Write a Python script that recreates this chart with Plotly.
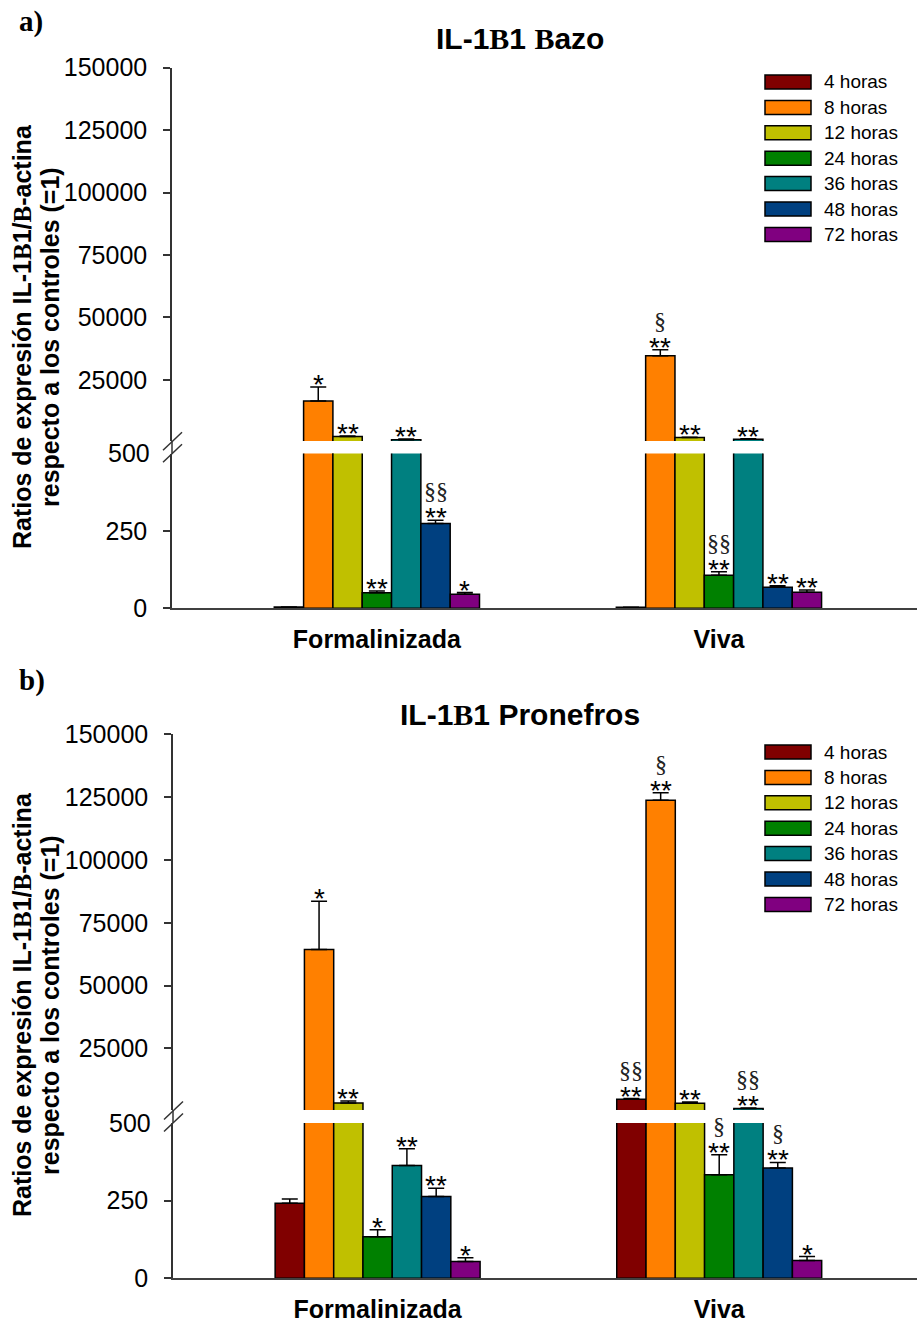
import plotly.graph_objects as go

W, H = 917, 1324

groups = ["Formalinizada", "Viva"]
series = ["4 horas", "8 horas", "12 horas", "24 horas", "36 horas", "48 horas", "72 horas"]
colors = ["#800000", "#FF8000", "#C0C000", "#008000", "#008080", "#004080", "#800080"]

# IL-1B1 Bazo
bazo_form = [4, 16500, 2300, 50, 1050, 274, 45]
bazo_form_err = [0, 5600, 250, 6, 250, 10, 6]
bazo_viva = [3, 34600, 1900, 107, 1250, 68, 52]
bazo_viva_err = [0, 2400, 150, 11, 200, 5, 7]
bazo_form_sig = ["", "*", "**", "**", "**", "**", "*"]
bazo_form_sec = ["", "", "", "", "", "§§", ""]
bazo_viva_sig = ["", "**", "**", "**", "**", "**", "**"]
bazo_viva_sec = ["", "§", "", "§§", "", "", ""]

# IL-1B1 Pronefros
pron_form = [242, 64400, 3300, 134, 363, 263, 54]
pron_form_err = [13, 19200, 800, 22, 54, 27, 12]
pron_viva = [4800, 123800, 3200, 333, 1100, 355, 57]
pron_viva_err = [270, 2900, 500, 65, 200, 18, 13]
pron_form_sig = ["", "*", "**", "*", "**", "**", "*"]
pron_form_sec = ["", "", "", "", "", "", ""]
pron_viva_sig = ["**", "**", "**", "**", "**", "**", "*"]
pron_viva_sec = ["§§", "§", "", "§", "§§", "§", ""]

upper_ticks = [25000, 50000, 75000, 100000, 125000, 150000]
lower_ticks = [0, 250]
BREAK = 500
TOP = 150000

SANS = "Liberation Sans"
SERIF = "Liberation Serif"


def px(x):
    return x / W


def py(y):
    return 1 - y / H


def serif_b(s):
    return s.replace("B", "<span style='font-family:%s'>B</span>" % SERIF)


panels = [
    dict(title="IL-1B1 Bazo", tag="a)", form=bazo_form, form_err=bazo_form_err,
         viva=bazo_viva, viva_err=bazo_viva_err,
         sig=[bazo_form_sig, bazo_viva_sig], sec=[bazo_form_sec, bazo_viva_sec],
         x0=172, low=(608.3, 453.5), up=(441.0, 67.7), title_y=38, tag_y=21,
         ytitle_y=337, leg_y=82),
    dict(title="IL-1B1 Pronefros", tag="b)", form=pron_form, form_err=pron_form_err,
         viva=pron_viva, viva_err=pron_viva_err,
         sig=[pron_form_sig, pron_viva_sig], sec=[pron_form_sec, pron_viva_sec],
         x0=173, low=(1278.3, 1123.0), up=(1110.0, 734.3), title_y=714, tag_y=680,
         ytitle_y=1005, leg_y=752),
]

n = len(series)
bw = 0.6 / n  # bar width in category units (bargap 0.4)
XR = [-0.599, 1.579]

fig = go.Figure()
layout = dict(template="none", width=W, height=H, autosize=False,
              margin=dict(l=0, r=0, t=0, b=0, pad=0),
              paper_bgcolor="white", plot_bgcolor="white", showlegend=False,
              barmode="overlay")
annotations = []
shapes = []

axis_common = dict(showgrid=False, zeroline=False, fixedrange=True, automargin=False)

for p_i, p in enumerate(panels):
    xa = "x" if p_i == 0 else "x2"
    ya_low = "y" if p_i == 0 else "y3"
    ya_up = "y2" if p_i == 0 else "y4"
    xkey = "xaxis" if p_i == 0 else "xaxis2"
    lowkey = "yaxis" if p_i == 0 else "yaxis3"
    upkey = "yaxis2" if p_i == 0 else "yaxis4"

    for i in range(n):
        vals = [p["form"][i], p["viva"][i]]
        errs = [p["form_err"][i], p["viva_err"][i]]
        offset = (i - n / 2) * bw
        # lower segment (0-500): every bar, clipped at the break
        low_err = [e if (v <= BREAK and e > 0) else None for v, e in zip(vals, errs)]
        fig.add_trace(go.Bar(
            x=[0, 1], y=vals, xaxis=xa, yaxis=ya_low, width=bw, offset=offset,
            marker=dict(color=colors[i], line=dict(color="black", width=1.5)),
            error_y=dict(type="data", array=low_err, arrayminus=[0, 0], symmetric=False,
                         color="black", thickness=1.5, width=8),
            name=series[i]))
        # upper segment (500-150000): only bars above the break
        up_vals = [v if v > BREAK else None for v in vals]
        up_err = [e if v > BREAK else None for v, e in zip(vals, errs)]
        fig.add_trace(go.Bar(
            x=[0, 1], y=up_vals, xaxis=xa, yaxis=ya_up, width=bw, offset=offset,
            marker=dict(color=colors[i], line=dict(color="black", width=1.5)),
            error_y=dict(type="data", array=up_err, arrayminus=[0, 0], symmetric=False,
                         color="black", thickness=1.5, width=8),
            name=series[i]))

        # significance marks above each bar
        for g in range(2):
            v, e = vals[g], errs[g]
            top = v + e
            yref = ya_up if v > BREAK else ya_low
            xc = g + (i - (n - 1) / 2) * bw
            star = p["sig"][g][i]
            sec = p["sec"][g][i]
            if star:
                annotations.append(dict(
                    x=xc, y=top, xref=xa, yref=yref, text=star, showarrow=False,
                    xanchor="center", yanchor="bottom", yshift=-15,
                    font=dict(family=SANS, size=28, color="black")))
            if sec:
                annotations.append(dict(
                    x=xc, y=top, xref=xa, yref=yref, text=sec, showarrow=False,
                    xanchor="center", yanchor="bottom", yshift=(14 if star else -2),
                    font=dict(family=SERIF, size=24, color="#222")))

    x0 = p["x0"]
    layout[xkey] = dict(domain=[px(x0), 1.0], range=XR, anchor=ya_low,
                        tickvals=[0, 1], ticktext=groups, ticks="",
                        tickfont=dict(family=SANS, size=25, color="black", weight="bold"),
                        ticklabelstandoff=8,
                        showline=True, linecolor="#404040", linewidth=2, **axis_common)
    ytick = dict(ticks="outside", ticklen=7, tickwidth=1.5, tickcolor="#333",
                 tickfont=dict(family=SANS, size=25, color="black"),
                 ticklabelstandoff=11, tickformat="d",
                 showline=True, linecolor="#333", linewidth=1.5, **axis_common)
    layout[lowkey] = dict(domain=[py(p["low"][0]), py(p["low"][1])], range=[0, BREAK],
                          anchor=xa, tickvals=lower_ticks, **ytick)
    layout[upkey] = dict(domain=[py(p["up"][0]), py(p["up"][1])], range=[BREAK, TOP],
                         anchor=xa, tickvals=upper_ticks, **ytick)

    # label of the break value
    annotations.append(dict(x=px(x0 - 20), y=BREAK, xref="paper", yref=ya_low,
                            text=str(BREAK), showarrow=False, xanchor="right",
                            yanchor="middle",
                            font=dict(family=SANS, size=25, color="black")))

    # axis line across the gap plus the break slashes
    gy0, gy1 = p["up"][0], p["low"][1]
    shapes.append(dict(type="line", xref="paper", yref="paper",
                       x0=px(x0), x1=px(x0), y0=py(gy0), y1=py(gy1),
                       line=dict(color="#333", width=1.5)))
    gc = (gy0 + gy1) / 2
    for dy in (-6, 6):
        shapes.append(dict(type="line", xref="paper", yref="paper",
                           x0=px(x0 - 9), x1=px(x0 + 10),
                           y0=py(gc + dy + 9), y1=py(gc + dy - 9),
                           line=dict(color="#333", width=1.5)))

    # panel title and tag
    annotations.append(dict(x=px(520), y=py(p["title_y"]), xref="paper", yref="paper",
                            text=serif_b(p["title"]), showarrow=False,
                            xanchor="center", yanchor="middle",
                            font=dict(family=SANS, size=30, color="black", weight="bold")))
    annotations.append(dict(x=px(17), y=py(p["tag_y"]), xref="paper", yref="paper",
                            text=p["tag"], showarrow=False,
                            xanchor="left", yanchor="middle",
                            font=dict(family=SERIF, size=29, color="black", weight="bold")))

    # y axis title, two lines
    ylines = [serif_b("Ratios de expresión IL-1B1/B-actina"), "respecto a los controles (=1)"]
    for k, (txt, xl) in enumerate(zip(ylines, (22, 50))):
        annotations.append(dict(x=px(xl), y=py(p["ytitle_y"]), xref="paper", yref="paper",
                                text=txt, showarrow=False, textangle=-90,
                                xanchor="center", yanchor="middle",
                                font=dict(family=SANS, size=25, color="black",
                                          weight="bold")))

    # legend
    for i in range(n):
        yc = p["leg_y"] + i * 25.4
        shapes.append(dict(type="rect", xref="paper", yref="paper",
                           x0=px(765), x1=px(811), y0=py(yc - 7), y1=py(yc + 7),
                           fillcolor=colors[i], line=dict(color="black", width=1.5)))
        annotations.append(dict(x=px(822), y=py(yc), xref="paper", yref="paper",
                                text=series[i], showarrow=False,
                                xanchor="left", yanchor="middle",
                                font=dict(family=SANS, size=19, color="black")))

layout["annotations"] = annotations
layout["shapes"] = shapes
fig.update_layout(**layout)
fig.write_html("out.html")
